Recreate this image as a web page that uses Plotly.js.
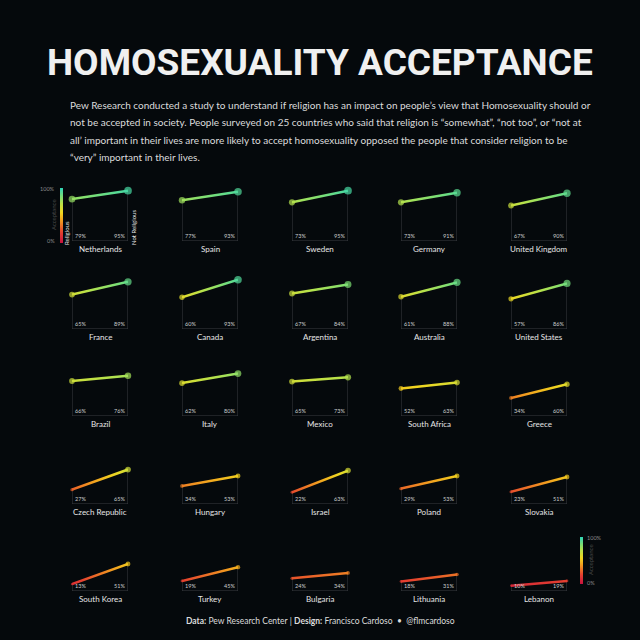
<!DOCTYPE html>
<html><head><meta charset="utf-8">
<script src="https://cdn.plot.ly/plotly-3.0.1.min.js"></script>
<style>html,body{margin:0;padding:0;background:#05090c;}#chart{width:640px;height:640px;}</style>
</head><body><div id="chart"></div>
<script>
const countries = ['Netherlands','Spain','Sweden','Germany','United Kingdom',
  'France','Canada','Argentina','Australia','United States',
  'Brazil','Italy','Mexico','South Africa','Greece',
  'Czech Republic','Hungary','Israel','Poland','Slovakia',
  'South Korea','Turkey','Bulgaria','Lithuania','Lebanon'];
const religious    = [79,77,73,73,67, 65,60,67,61,57, 66,62,65,52,34, 27,34,22,29,23, 13,19,24,18,10];
const notReligious = [95,93,95,91,90, 89,93,84,88,86, 76,80,73,63,60, 65,53,63,53,51, 51,45,34,31,19];
const groupLabels = ['Religious','Not Religious'];
const scaleTickText = ['0%','100%'];
const scaleTitle = 'Acceptance';

const titleText = 'HOMOSEXUALITY ACCEPTANCE';
const introLines = [
  'Pew Research conducted a study to understand if religion has an impact on people\u2019s view that Homosexuality should or',
  'not be accepted in society. People surveyed on 25 countries who said that religion is \u201csomewhat\u201d, \u201cnot too\u201d, or \u201cnot at',
  'all\u2019 important in their lives are more likely to accept homosexuality opposed the people that consider religion to be',
  '\u201cvery\u201d important in their lives.'
];
const footerText = '<b>Data:</b> Pew Research Center | <b>Design:</b> Francisco Cardoso \u00a0\u2022\u00a0 @flmcardoso';

const colorStops = [[0,'#c8123f'],[0.2,'#e5422f'],[0.4,'#f29a1f'],[0.55,'#f1d61f'],[0.72,'#b8e24a'],[0.85,'#78df78'],[1,'#2ed4b8']];

function hexToRgb(h){ h=h.replace('#',''); return [parseInt(h.substr(0,2),16),parseInt(h.substr(2,2),16),parseInt(h.substr(4,2),16)]; }
function colorAt(v){
  const t=Math.max(0,Math.min(1,v/100));
  for(let i=0;i<colorStops.length-1;i++){
    const a=colorStops[i], b=colorStops[i+1];
    if(t>=a[0] && t<=b[0]){
      const f=(t-a[0])/(b[0]-a[0]); const ca=hexToRgb(a[1]), cb=hexToRgb(b[1]);
      return 'rgb('+ca.map((c,j)=>Math.round(c+(cb[j]-c)*f)).join(',')+')';
    }
  }
  return colorStops[colorStops.length-1][1];
}

const W=640,H=640;
const colLeft=[72,182,292,401,511], rowBottom=[241,329,416,504,591], cellW=56, cellH=53;
const px=x=>x/W, py=y=>1-y/H;
const labelFont='Lato, "Noto Sans", sans-serif';

const data=[], annotations=[];
const layout={
  width:W,height:H,margin:{l:0,r:0,t:0,b:0,pad:0},
  paper_bgcolor:'#05090c',plot_bgcolor:'rgba(0,0,0,0)',showlegend:false,
  coloraxis:{cmin:0,cmax:100,colorscale:colorStops,showscale:true,
    colorbar:{x:px(59.5),xanchor:'left',y:py(243),yanchor:'bottom',len:55,lenmode:'pixels',
      thickness:3,thicknessmode:'pixels',outlinewidth:0,showticklabels:false,ticks:'',xpad:0,ypad:0,title:{text:''}}},
  coloraxis2:{cmin:0,cmax:100,colorscale:colorStops,showscale:true,
    colorbar:{x:px(579.5),xanchor:'left',y:py(584),yanchor:'bottom',len:47,lenmode:'pixels',
      thickness:3,thicknessmode:'pixels',outlinewidth:0,showticklabels:false,ticks:'',xpad:0,ypad:0,title:{text:''}}},
  annotations:annotations
};
const gradMap={};

countries.forEach((name,i)=>{
  const r=Math.floor(i/5), c=i%5;
  const s = i===0 ? '' : String(i+1);
  const L=colLeft[c], B=rowBottom[r];
  layout['xaxis'+s]={domain:[px(L),px(L+cellW)],range:[0,1],visible:false,fixedrange:true,anchor:'y'+s};
  layout['yaxis'+s]={domain:[py(B),py(B-cellH)],range:[0,100],visible:false,fixedrange:true,anchor:'x'+s};
  const rv=religious[i], nv=notReligious[i];
  data.push({type:'scatter',mode:'lines',x:[0,0,1,1],y:[rv,0,0,nv],xaxis:'x'+s,yaxis:'y'+s,
    line:{color:'#3a3d40',width:1},cliponaxis:false,hoverinfo:'skip'});
  gradMap[data.length]=i;
  data.push({type:'scatter',mode:'lines+markers',x:[0,1],y:[rv,nv],xaxis:'x'+s,yaxis:'y'+s,
    line:{color:colorAt((rv+nv)/2),width:2.5},
    marker:{color:[rv,nv],coloraxis: i===countries.length-1 ? 'coloraxis2':'coloraxis',
      size:[1.5+rv*0.065,1.5+nv*0.065],line:{width:0}},
    cliponaxis:false,hoverinfo:'skip'});
  annotations.push({xref:'x'+s,yref:'y'+s,x:0.5,y:0,xanchor:'center',yanchor:'top',yshift:-1,
    text:name,showarrow:false,font:{family:labelFont,size:8,color:'#e6e6e6'}});
  annotations.push({xref:'x'+s,yref:'y'+s,x:0,y:0,xanchor:'left',yanchor:'bottom',xshift:1,yshift:0,
    text:rv+'%',showarrow:false,font:{family:labelFont,size:5.5,color:'#cfcfcf'}});
  annotations.push({xref:'x'+s,yref:'y'+s,x:1,y:0,xanchor:'right',yanchor:'bottom',xshift:-1,yshift:0,
    text:nv+'%',showarrow:false,font:{family:labelFont,size:5.5,color:'#cfcfcf'}});
});

function pa(x,y,text,opt){ annotations.push(Object.assign({xref:'paper',yref:'paper',x:px(x),y:py(y),text:text,showarrow:false},opt)); }
pa(320,62,titleText,{xanchor:'center',yanchor:'middle',font:{family:'Roboto, sans-serif',size:37,weight:700,color:'#f0f0f0'}});
const introY=[105,122,140,157];
introLines.forEach((t,k)=>pa(68,introY[k],t,{xanchor:'left',yanchor:'middle',font:{family:labelFont,size:10,color:'#dcdcdc'}}));
pa(320,621,footerText,{xanchor:'center',yanchor:'middle',font:{family:labelFont,size:8.5,color:'#dcdcdc'}});
const smallGrey={family:labelFont,size:5.5,color:'#8a8a8a'};
pa(57,189,scaleTickText[1],{xanchor:'right',yanchor:'middle',font:smallGrey});
pa(57,241,scaleTickText[0],{xanchor:'right',yanchor:'middle',font:smallGrey});
pa(53,215,scaleTitle,{xanchor:'center',yanchor:'middle',textangle:-90,font:{family:labelFont,size:6,color:'#4a4a4a'}});
pa(585,538,scaleTickText[1],{xanchor:'left',yanchor:'middle',font:smallGrey});
pa(585,583,scaleTickText[0],{xanchor:'left',yanchor:'middle',font:smallGrey});
pa(590,560,scaleTitle,{xanchor:'center',yanchor:'middle',textangle:-90,font:{family:labelFont,size:6,color:'#4a4a4a'}});
pa(67,233,groupLabels[0],{xanchor:'center',yanchor:'middle',textangle:-90,font:{family:labelFont,size:6,color:'#e6e6e6'}});
pa(134,228,groupLabels[1],{xanchor:'center',yanchor:'middle',textangle:-90,font:{family:labelFont,size:6,color:'#e6e6e6'}});

Plotly.newPlot('chart',data,layout,{staticPlot:true,displayModeBar:false}).then(gd=>{
  const NS='http://www.w3.org/2000/svg';
  const svg=gd.querySelector('svg.main-svg');
  let defs=svg.querySelector('defs');
  if(!defs){defs=document.createElementNS(NS,'defs');svg.insertBefore(defs,svg.firstChild);}
  gd.querySelectorAll('g.scatterlayer g.trace').forEach(g=>{
    const cd=g.__data__; const tr=cd&&cd[0]&&cd[0].trace;
    if(!tr || !(tr.index in gradMap)) return;
    const i=gradMap[tr.index];
    const path=g.querySelector('path.js-line'); if(!path) return;
    const id='lg'+i;
    const lg=document.createElementNS(NS,'linearGradient');
    lg.setAttribute('id',id);lg.setAttribute('x1','0');lg.setAttribute('y1','0');lg.setAttribute('x2','1');lg.setAttribute('y2','0');
    for(let k=0;k<=6;k++){
      const f=k/6; const v=religious[i]+(notReligious[i]-religious[i])*f;
      const st=document.createElementNS(NS,'stop');
      st.setAttribute('offset',f);st.setAttribute('stop-color',colorAt(v));
      lg.appendChild(st);
    }
    defs.appendChild(lg);
    path.style.stroke='url(#'+id+')';
  });
});
</script></body></html>
